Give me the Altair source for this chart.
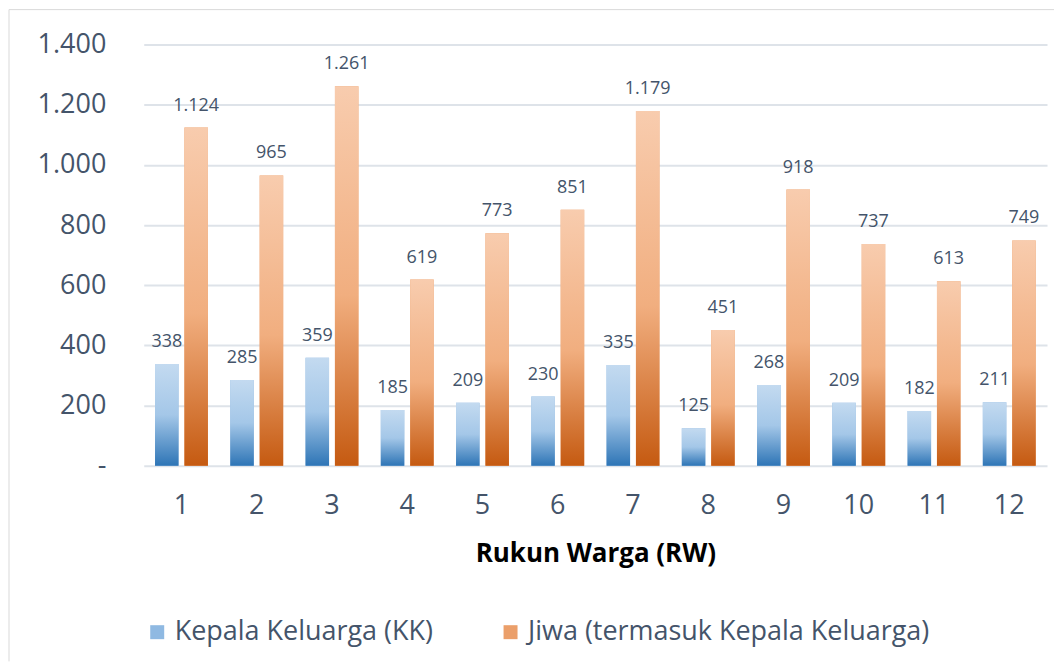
import altair as alt
import pandas as pd

rw = [str(i) for i in range(1, 13)]
kk = [338, 285, 359, 185, 209, 230, 335, 125, 268, 209, 182, 211]
jiwa = [1124, 965, 1261, 619, 773, 851, 1179, 451, 918, 737, 613, 749]
series = ["Kepala Keluarga (KK)", "Jiwa (termasuk Kepala Keluarga)"]
y_ticks = [0, 200, 400, 600, 800, 1000, 1200, 1400]

rows = []
for r, a, b in zip(rw, kk, jiwa):
    rows.append({"rw": r, "series": series[0], "value": a})
    rows.append({"rw": r, "series": series[1], "value": b})
df = pd.DataFrame(rows)

TEXT = "#44546A"
FONT = "Open Sans"

blue_grad = alt.Gradient(
    gradient="linear", x1=0, y1=0, x2=0, y2=1,
    stops=[alt.GradientStop(offset=0, color="#C3DAF0"),
           alt.GradientStop(offset=0.5, color="#A4C7E8"),
           alt.GradientStop(offset=1, color="#2E75B6")])
orange_grad = alt.Gradient(
    gradient="linear", x1=0, y1=0, x2=0, y2=1,
    stops=[alt.GradientStop(offset=0, color="#F8CCAE"),
           alt.GradientStop(offset=0.55, color="#F1AE7F"),
           alt.GradientStop(offset=1, color="#C55A11")])

x_enc = alt.X("rw:N", sort=rw,
              scale=alt.Scale(paddingInner=0.297, paddingOuter=0.15),
              axis=alt.Axis(title="Rukun Warga (RW)", labelAngle=0, labelFontSize=27,
                            labelColor=TEXT, labelFont=FONT, labelPadding=27,
                            domain=False, ticks=False, grid=False,
                            titleFont=FONT, titleFontSize=26, titleFontWeight="bold",
                            titleColor="#000000", titlePadding=22))
xoff_enc = alt.XOffset("series:N", sort=series,
                       scale=alt.Scale(domain=series, paddingInner=0.2, paddingOuter=0))
y_enc = alt.Y("value:Q", scale=alt.Scale(domain=[0, 1400], nice=False),
              axis=alt.Axis(values=y_ticks, title=None, domain=False, ticks=False,
                            labelExpr="datum.value == 0 ? '-' : replace(format(datum.value, ','), ',', '.')",
                            labelFontSize=27, labelColor=TEXT, labelFont=FONT, labelPadding=38,
                            gridColor="#DEE3E9", gridWidth=2))

frame_data = alt.Data(values=[{"f": 1}])
frame_top = alt.Chart(frame_data).mark_rule(color="#D9D9D9", strokeWidth=1).encode(
    x=alt.value(-135), x2=alt.value(912), y=alt.value(-35))
frame_left = alt.Chart(frame_data).mark_rule(color="#D9D9D9", strokeWidth=1).encode(
    x=alt.value(-135), y=alt.value(-35), y2=alt.value(618))

legend_bars = alt.Chart(df).mark_bar().encode(
    x=x_enc, xOffset=xoff_enc, y=y_enc,
    color=alt.Color("series:N", sort=series,
                    scale=alt.Scale(domain=series, range=["#8FB9E2", "#EB9F6A"]),
                    legend=alt.Legend(title=None, orient="none", legendX=0, legendY=575,
                                      direction="horizontal", symbolType="square",
                                      symbolSize=196, symbolStrokeWidth=0,
                                      labelFontSize=27, labelColor=TEXT, labelFont=FONT,
                                      labelOffset=4, columnPadding=64, labelLimit=1000)))

grad_bars = alt.Chart(df).mark_bar().encode(
    x=x_enc, xOffset=xoff_enc, y=y_enc,
    color=alt.condition(alt.datum.series == series[0], alt.value(blue_grad), alt.value(orange_grad)))

labels = alt.Chart(df).transform_calculate(
    label="replace(format(datum.value, ','), ',', '.')"
).mark_text(baseline="bottom", dy=-13, fontSize=18, font=FONT, color=TEXT).encode(
    x=x_enc, xOffset=xoff_enc, y=y_enc, text="label:N")

chart = alt.layer(frame_top, frame_left, legend_bars, grad_bars, labels).properties(
    width=905, height=422, padding=0, background="white"
).configure_view(stroke=None)

chart.save("out.html", embed_options={"renderer": "svg", "actions": False})
